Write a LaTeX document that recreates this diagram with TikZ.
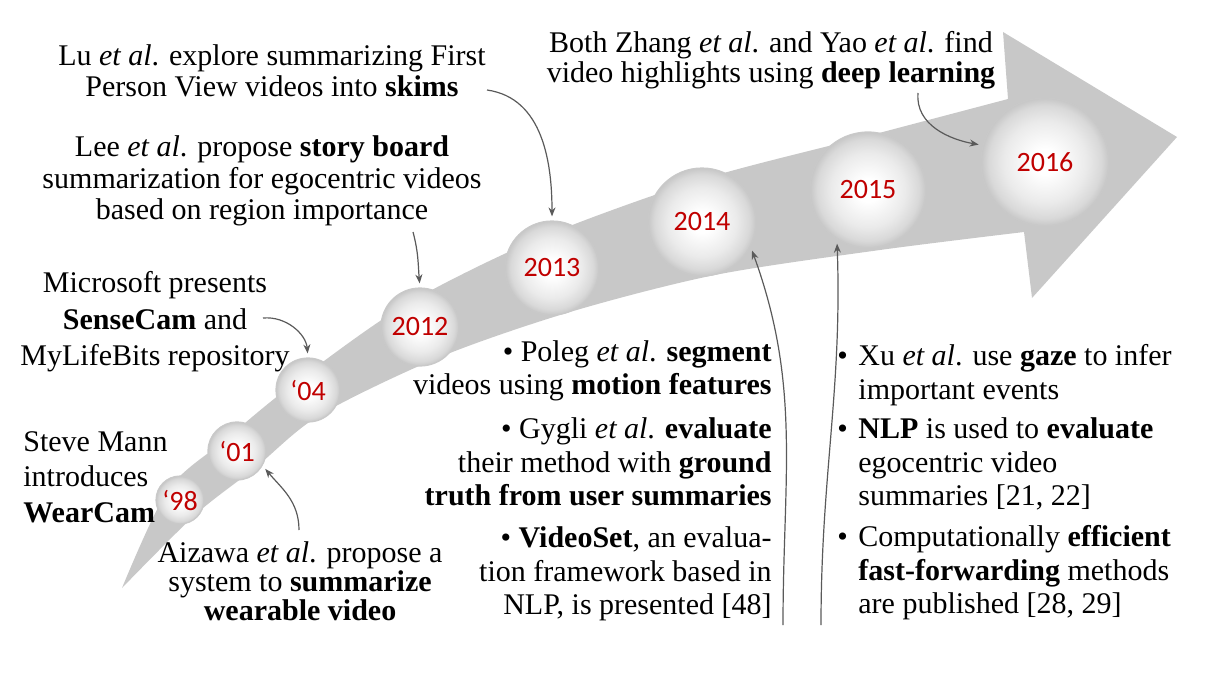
\documentclass[tikz,border=0pt]{standalone}
\usepackage{fontspec}
\setmainfont{Liberation Serif}
\newfontfamily\yearfont{Carlito}
\usetikzlibrary{arrows.meta}
\definecolor{bandgray}{RGB}{200,200,200}
\definecolor{yearred}{RGB}{192,0,0}
\definecolor{linkgray}{RGB}{90,90,90}
\pgfdeclareradialshading{orb}{\pgfpoint{0bp}{0bp}}{color(0bp)=(white); color(5bp)=(white); color(16bp)=(black!8); color(22bp)=(black!15); color(25bp)=(black!22); color(50bp)=(black!22)}

\begin{document}
\begin{tikzpicture}[x=0.5pt,y=-0.5pt,
  yr/.style={circle,shading=orb,draw=black!21,line width=0.6pt,inner sep=0pt,text=yearred,font=\yearfont\fontsize{14}{14}\selectfont},
  txt/.style={inner sep=0pt,font=\fontsize{15}{15.5}\selectfont},
  wide/.style={font=\fontsize{15}{16.75}\selectfont},
  link/.style={draw=linkgray,line width=0.6pt,-{Stealth[length=4.5pt,width=3.5pt]},shorten >=2pt}]
\useasboundingbox (0,0) rectangle (1214,674);

\fill[bandgray] plot[smooth] coordinates {(122,588) (168,490) (225,440) (292,385) (405,305) (540,238) (700,180) (860,138) (1008,99)}
  -- (1003,32) -- (1177,137) -- (1032,298) --
  plot[smooth] coordinates {(1024,232) (880,250) (715,275) (570,312) (440,357) (320,415) (255,468) (195,515) (122,588)} -- cycle;

\node[yr,minimum size=24pt] (y98) at (180,500) {‘98};
\node[yr,minimum size=29pt] (y01) at (237,451) {‘01};
\node[yr,minimum size=32pt] (y04) at (308,390) {‘04};
\node[yr,minimum size=39pt] (y12) at (420,327) {2012};
\node[yr,minimum size=47pt] (y13) at (552,268) {2013};
\node[yr,minimum size=54pt] (y14) at (702,222) {2014};
\node[yr,minimum size=58pt] (y15) at (868,190) {2015};
\node[yr,minimum size=64pt] (y16) at (1045,162) {2016};

\node[txt,align=center] (lu) at (272,71)
{Lu \textit{et al}. explore summarizing First\\
Person View videos into \textbf{skims}};
\node[txt,align=center,font=\fontsize{15}{15.75}\selectfont] (lee) at (262,181)
{Lee \textit{et al}. propose \textbf{story board}\\
summarization for egocentric videos\\
based on region importance};
\node[txt,align=center,font=\fontsize{15}{15}\selectfont] (zhang) at (771,60)
{Both Zhang \textit{et al}. and Yao \textit{et al}. find\\
video highlights using \textbf{deep learning}};
\node[txt,align=center,font=\fontsize{15}{18.25}\selectfont] (msft) at (155,322)
{Microsoft presents\\
\textbf{SenseCam} and\\
MyLifeBits repository};
\node[txt,align=left,anchor=west,font=\fontsize{15}{17.75}\selectfont] (mann) at (23,477)
{Steve Mann\\
introduces\\
\textbf{WearCam}};
\node[txt,align=center,font=\fontsize{15}{14.5}\selectfont] (aiz) at (300,581)
{Aizawa \textit{et al}. propose a\\
system to \textbf{summarize}\\
\textbf{wearable video}};

\node[txt,wide,align=right,anchor=east] (poleg) at (772,371)
{\textbullet\ Poleg \textit{et al}. \textbf{segment}\\
videos using \textbf{motion features}};
\node[txt,wide,align=right,anchor=east] (gygli) at (772,462)
{\textbullet\ Gygli \textit{et al}. \textbf{evaluate}\\
their method with \textbf{ground}\\
\textbf{truth from user summaries}};
\node[txt,wide,align=right,anchor=east] (vset) at (772,574)
{\textbullet\ \textbf{VideoSet}, an evalua-\\
tion framework based in\\
NLP, is presented [48]};

\node[txt,wide,align=left,anchor=west] (xu) at (837,375)
{\makebox[10.5pt][l]{\textbullet}Xu \textit{et al}. use \textbf{gaze} to infer\\
\hspace*{10.5pt}important events};
\node[txt,wide,align=left,anchor=west] (nlp) at (837,464)
{\makebox[10.5pt][l]{\textbullet}\textbf{NLP} is used to \textbf{evaluate}\\
\hspace*{10.5pt}egocentric video\\
\hspace*{10.5pt}summaries [21, 22]};
\node[txt,wide,align=left,anchor=west] (comp) at (837,573)
{\makebox[10.5pt][l]{\textbullet}Computationally \textbf{efficient}\\
\hspace*{10.5pt}\textbf{fast-forwarding} methods\\
\hspace*{10.5pt}are published [28, 29]};

\coordinate (lu-out) at (487,90);
\coordinate (lee-out) at (413,232);
\coordinate (msft-out) at (263,318);
\coordinate (aiz-out) at (299,530);
\coordinate (zhang-out) at (918,93);
\coordinate (poleg-out) at (783,625);
\coordinate (xu-out) at (821,625);

\draw[link] (lu-out) to[out=-8,in=90] (y13.north);
\draw[link] (lee-out) to[out=-75,in=95] (y12.north);
\draw[link] (msft-out) to[out=5,in=95] (y04.north);
\draw[link] (aiz-out) to[out=90,in=-50] (y01.-30);
\draw[link] (zhang-out) to[out=-95,in=170] (y16.165);
\draw[link] (poleg-out) to[out=90,in=-70] (y14.-27);
\draw[link] (xu-out) to[out=90,in=-88] (y15.-122);
\end{tikzpicture}
\end{document}
